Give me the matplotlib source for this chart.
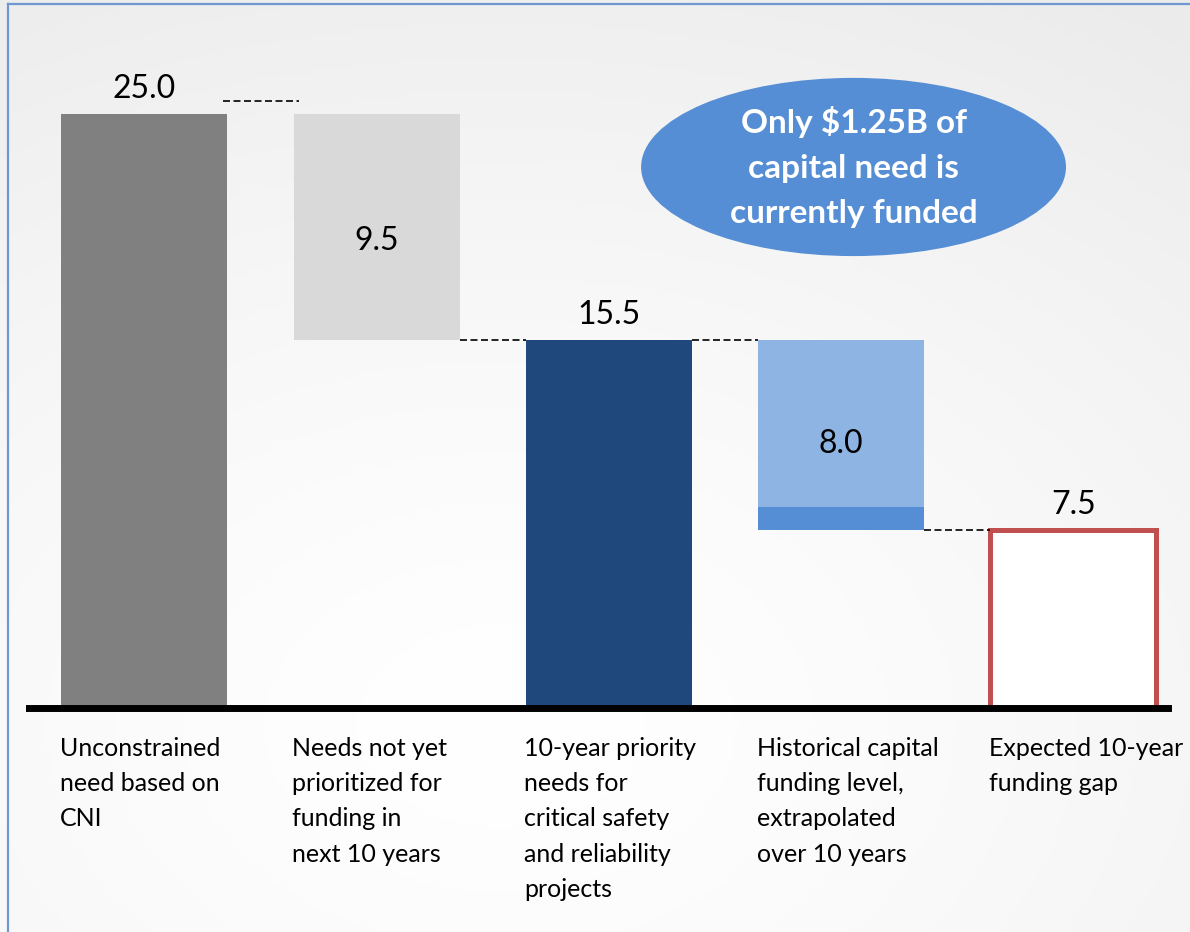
import matplotlib

matplotlib.use("Agg")
import matplotlib.pyplot as plt
import matplotlib.transforms as mtransforms
from matplotlib.lines import Line2D
from matplotlib.patches import Ellipse
import numpy as np

plt.rcParams["font.family"] = ["Lato", "DejaVu Sans"]

# ---- data ---------------------------------------------------------------
categories = [
    "Unconstrained\nneed based on\nCNI",
    "Needs not yet\nprioritized for\nfunding in\nnext 10 years",
    "10-year priority\nneeds for\ncritical safety\nand reliability\nprojects",
    "Historical capital\nfunding level,\nextrapolated\nover 10 years",
    "Expected 10-year\nfunding gap",
]
values = [25.0, 9.5, 15.5, 8.0, 7.5]
bottoms = [0.0, 15.5, 0.0, 7.5, 0.0]
funded_part = 0.95          # darker strip at the base of the 8.0 bar
value_labels = ["25.0", "9.5", "15.5", "8.0", "7.5"]
bubble_text = "Only $1.25B of\ncapital need is\ncurrently funded"

BAR_COLORS = ["#808080", "#d9d9d9", "#1f497d", "#8db4e2", "#ffffff"]
STRIP_COLOR = "#558ed5"
GAP_EDGE = "#c0504d"
BAR_W = 0.715

# ---- figure -------------------------------------------------------------
W, H = 1190, 932
fig = plt.figure(figsize=(W / 100, H / 100), dpi=100)

# soft grey background gradient
bg = fig.add_axes([0, 0, 1, 1], zorder=-10)
gx, gy = np.meshgrid(np.linspace(0, 1, 240), np.linspace(0, 1, 190))
r = np.sqrt(((gx - 0.42) / 1.0) ** 2 + ((gy - 0.78) / 0.9) ** 2)
shade = 1.0 - 0.075 * np.clip(r, 0, 1) ** 1.4
bg.imshow(np.dstack([shade] * 3), extent=[0, 1, 0, 1], aspect="auto",
          origin="upper")
bg.axis("off")

# frame border (left and top)
fig.add_artist(Line2D([8 / W, 8 / W], [0, 1 - 4 / H], transform=fig.transFigure,
                      color="#7098d0", lw=1.6))
fig.add_artist(Line2D([8 / W, 1], [1 - 4 / H, 1 - 4 / H], transform=fig.transFigure,
                      color="#7098d0", lw=1.6))

# main axes: y=0 at px 708, y=25 at px 114
px_per_unit = (708 - 114) / 25.0
y_top = 708 / px_per_unit
y_bot = -0.3
ax_bottom_px = 708 - y_bot * px_per_unit
ax = fig.add_axes([26 / W, 1 - ax_bottom_px / H, 1154 / W, (ax_bottom_px) / H])
ax.set_xlim(-0.51, 4.46)
ax.set_ylim(y_bot, y_top)
ax.axis("off")
ax.patch.set_alpha(0)

x = np.arange(len(values))
for i in range(len(values)):
    if i == 4:
        ax.bar(x[i], values[i], bottom=bottoms[i], width=BAR_W,
               color=BAR_COLORS[i], edgecolor=GAP_EDGE, lw=3.6, zorder=2)
    elif i == 3:
        ax.bar(x[i], values[i] - funded_part, bottom=bottoms[i] + funded_part,
               width=BAR_W, color=BAR_COLORS[i], lw=0, zorder=2)
        ax.bar(x[i], funded_part, bottom=bottoms[i], width=BAR_W,
               color=STRIP_COLOR, lw=0, zorder=2)
    else:
        ax.bar(x[i], values[i], bottom=bottoms[i], width=BAR_W,
               color=BAR_COLORS[i], lw=0, zorder=2)

# baseline
ax.axhline(0, color="black", lw=5, zorder=4, xmin=0, xmax=0.99)

# dashed connectors between consecutive bars
levels = [25.0, 15.5, 15.5, 7.5]
for i, lvl in enumerate(levels):
    x0 = x[i] + BAR_W / 2
    x1 = x[i + 1] - BAR_W / 2
    tr = ax.transData
    if i == 0:
        # first connector sits a little above the bar tops in the original
        tr = mtransforms.offset_copy(ax.transData, fig=fig, x=0, y=13, units="dots")
        x0 -= 0.02
        x1 += 0.025
    ax.plot([x0, x1], [lvl, lvl], transform=tr, color="black", lw=1.2,
            ls=(0, (4.2, 2.1)), zorder=3, solid_capstyle="butt")

# value labels
for i, lab in enumerate(value_labels):
    top = bottoms[i] + values[i]
    if i in (1, 3):
        ax.annotate(lab, (x[i], bottoms[i] + values[i] / 2), xytext=(0, -10 if i == 1 else -7),
                    textcoords="offset points", ha="center", va="center",
                    fontsize=23, color="black", zorder=5)
    else:
        ax.annotate(lab, (x[i], top), xytext=(0, 7), textcoords="offset points",
                    ha="center", va="bottom", fontsize=23, color="black", zorder=5)

# category labels under the baseline
for i, cat in enumerate(categories):
    ax.annotate(cat, (x[i] - BAR_W / 2, 0), xytext=(-1, -21),
                textcoords="offset points", ha="left", va="top",
                fontsize=18, linespacing=1.64, color="black",
                annotation_clip=False)

# call-out bubble
bub_cx, bub_cy = 3.054, 22.77
ax.add_patch(Ellipse((bub_cx, bub_cy), 1.83, 7.5, facecolor=STRIP_COLOR,
                     edgecolor="none", zorder=5))
ax.text(bub_cx, bub_cy, bubble_text, ha="center", va="center", color="white",
        fontsize=24, fontweight="bold", linespacing=1.68, zorder=6)

fig.savefig("out.png", dpi=100)
